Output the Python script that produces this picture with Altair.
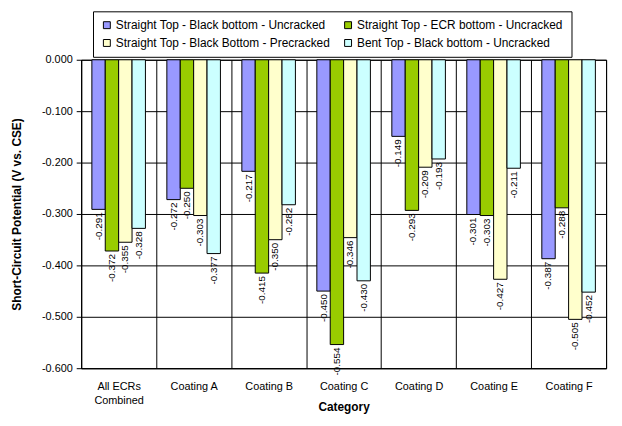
import altair as alt
import pandas as pd

categories = ["All ECRs Combined", "Coating A", "Coating B", "Coating C",
              "Coating D", "Coating E", "Coating F"]
series = ["Straight Top - Black bottom - Uncracked",
          "Straight Top - ECR bottom - Uncracked",
          "Straight Top - Black Bottom - Precracked",
          "Bent Top - Black bottom - Uncracked"]
colors = ["#9999FF", "#99CC00", "#FFFFCC", "#CCFFFF"]

s1 = [-0.291, -0.272, -0.217, -0.450, -0.149, -0.301, -0.387]
s2 = [-0.372, -0.250, -0.415, -0.554, -0.293, -0.303, -0.288]
s3 = [-0.355, -0.303, -0.350, -0.346, -0.209, -0.427, -0.505]
s4 = [-0.328, -0.377, -0.282, -0.430, -0.193, -0.211, -0.452]

rows = []
for sname, vals in zip(series, [s1, s2, s3, s4]):
    for c, v in zip(categories, vals):
        rows.append({"Category": c, "Series": sname, "Value": v, "Label": f"{v:.3f}"})
df = pd.DataFrame(rows)

FONT = "Liberation Sans"

base = alt.Chart(df).encode(
    x=alt.X("Category:N", sort=categories,
            scale=alt.Scale(paddingInner=0, paddingOuter=0),
            axis=alt.Axis(title="Category", labelAngle=0, ticks=False, grid=True,
                          tickBand="extent", labelPadding=13, labelLineHeight=14,
                          labelFontSize=11, titleFontSize=12, titleFontWeight="bold",
                          titleY=34, titleBaseline="top",
                          labelExpr="datum.label == 'All ECRs Combined' ? ['All ECRs', 'Combined'] : datum.label")),
    xOffset=alt.XOffset("Series:N", sort=series,
                        scale=alt.Scale(paddingOuter=0.8, paddingInner=0)),
    y=alt.Y("Value:Q", scale=alt.Scale(domain=[-0.6, 0], nice=False),
            axis=alt.Axis(title="Short-Circuit Potential (V vs. CSE)",
                          values=[0, -0.1, -0.2, -0.3, -0.4, -0.5, -0.6],
                          labelExpr="(datum.value < -0.00001 ? '-' : '') + format(abs(datum.value), '.3f')",
                          tickSize=5, labelPadding=4, labelFontSize=11,
                          titleFontSize=12, titleFontWeight="bold",
                          titleX=-58, titleY=156)),
)

bars = base.mark_bar(stroke="black", strokeWidth=1).encode(
    color=alt.Color("Series:N", sort=series,
                    scale=alt.Scale(domain=series, range=colors),
                    legend=alt.Legend(title=None, orient="none", legendX=12, legendY=-49,
                                      columns=2, direction="horizontal",
                                      strokeColor="black", fillColor="white",
                                      padding=8, labelFontSize=12, symbolType="square",
                                      symbolSize=49, symbolStrokeColor="black",
                                      symbolStrokeWidth=1, columnPadding=12,
                                      rowPadding=6, labelOffset=3, labelLimit=400))
)

text = base.mark_text(angle=270, align="right", baseline="middle", dx=-3,
                      fontSize=10, color="black", font=FONT).encode(text="Label:N")

chart = (bars + text).properties(
    width=531, height=312,
    padding={"left": 74, "top": 50, "right": 8, "bottom": 48},
    autosize="none",
).configure(font=FONT).configure_axis(
    domainColor="black", tickColor="black", gridColor="black", gridOpacity=1,
    labelColor="black", titleColor="black", labelFont=FONT, titleFont=FONT,
).configure_view(stroke="black", strokeWidth=1).configure_legend(
    labelFont=FONT, labelColor="black"
)

chart.save("out.html", embed_options={"renderer": "svg", "actions": False})
